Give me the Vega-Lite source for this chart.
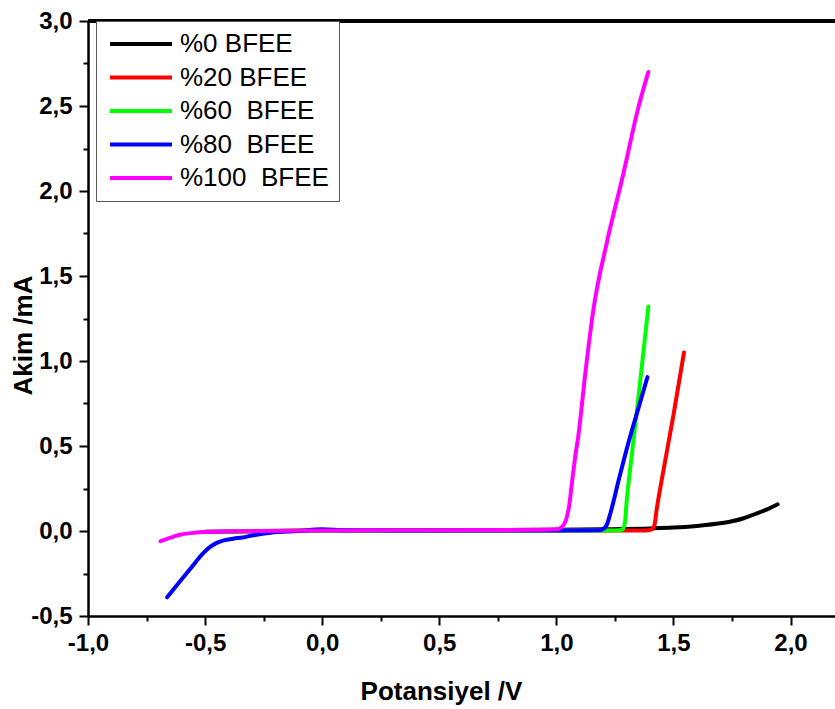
{
  "$schema": "https://vega.github.io/schema/vega-lite/v6.json",
  "width": 747,
  "height": 595,
  "autosize": {"type": "none"},
  "padding": {"left": 88, "top": 21, "right": 0, "bottom": 93},
  "background": "white",
  "config": {
    "view": {"stroke": null},
    "font": "Liberation Sans",
    "axis": {
      "domainColor": "black", "domainWidth": 2.5, "tickColor": "black", "tickWidth": 2,
      "labelFont": "Liberation Sans", "labelFontWeight": "bold", "labelFontSize": 24, "labelColor": "black",
      "titleFont": "Liberation Sans", "titleFontWeight": "bold", "titleFontSize": 26, "titleColor": "black",
      "grid": false, "labelFlush": false, "labelOverlap": false
    }
  },
  "datasets": {
    "curves": [
      {"series": "%0 BFEE", "V": -0.5, "I": -0.005},
      {"series": "%0 BFEE", "V": 0.0, "I": 0.003},
      {"series": "%0 BFEE", "V": 0.5, "I": 0.005},
      {"series": "%0 BFEE", "V": 1.0, "I": 0.007},
      {"series": "%0 BFEE", "V": 1.2, "I": 0.01},
      {"series": "%0 BFEE", "V": 1.4, "I": 0.015},
      {"series": "%0 BFEE", "V": 1.5, "I": 0.02},
      {"series": "%0 BFEE", "V": 1.6, "I": 0.03},
      {"series": "%0 BFEE", "V": 1.7, "I": 0.045},
      {"series": "%0 BFEE", "V": 1.75, "I": 0.057},
      {"series": "%0 BFEE", "V": 1.8, "I": 0.075},
      {"series": "%0 BFEE", "V": 1.85, "I": 0.1},
      {"series": "%0 BFEE", "V": 1.9, "I": 0.127},
      {"series": "%0 BFEE", "V": 1.945, "I": 0.157},

      {"series": "%20 BFEE", "V": -0.4, "I": -0.003},
      {"series": "%20 BFEE", "V": 0.0, "I": 0.003},
      {"series": "%20 BFEE", "V": 1.0, "I": 0.003},
      {"series": "%20 BFEE", "V": 1.38, "I": 0.003},
      {"series": "%20 BFEE", "V": 1.405, "I": 0.008},
      {"series": "%20 BFEE", "V": 1.418, "I": 0.03},
      {"series": "%20 BFEE", "V": 1.43, "I": 0.14},
      {"series": "%20 BFEE", "V": 1.45, "I": 0.3},
      {"series": "%20 BFEE", "V": 1.5, "I": 0.68},
      {"series": "%20 BFEE", "V": 1.545, "I": 1.05},

      {"series": "%60  BFEE", "V": -0.4, "I": -0.003},
      {"series": "%60  BFEE", "V": 0.0, "I": 0.003},
      {"series": "%60  BFEE", "V": 1.0, "I": 0.003},
      {"series": "%60  BFEE", "V": 1.26, "I": 0.003},
      {"series": "%60  BFEE", "V": 1.283, "I": 0.01},
      {"series": "%60  BFEE", "V": 1.293, "I": 0.05},
      {"series": "%60  BFEE", "V": 1.3, "I": 0.17},
      {"series": "%60  BFEE", "V": 1.32, "I": 0.42},
      {"series": "%60  BFEE", "V": 1.346, "I": 0.73},
      {"series": "%60  BFEE", "V": 1.37, "I": 1.03},
      {"series": "%60  BFEE", "V": 1.393, "I": 1.32},

      {"series": "%80  BFEE", "V": -0.662, "I": -0.39},
      {"series": "%80  BFEE", "V": -0.62, "I": -0.318},
      {"series": "%80  BFEE", "V": -0.577, "I": -0.245},
      {"series": "%80  BFEE", "V": -0.54, "I": -0.183},
      {"series": "%80  BFEE", "V": -0.509, "I": -0.132},
      {"series": "%80  BFEE", "V": -0.48, "I": -0.095},
      {"series": "%80  BFEE", "V": -0.45, "I": -0.07},
      {"series": "%80  BFEE", "V": -0.42, "I": -0.055},
      {"series": "%80  BFEE", "V": -0.38, "I": -0.045},
      {"series": "%80  BFEE", "V": -0.34, "I": -0.038},
      {"series": "%80  BFEE", "V": -0.3, "I": -0.027},
      {"series": "%80  BFEE", "V": -0.22, "I": -0.01},
      {"series": "%80  BFEE", "V": -0.1, "I": 0.0},
      {"series": "%80  BFEE", "V": 0.0, "I": 0.01},
      {"series": "%80  BFEE", "V": 0.1, "I": 0.004},
      {"series": "%80  BFEE", "V": 0.5, "I": 0.003},
      {"series": "%80  BFEE", "V": 1.0, "I": 0.003},
      {"series": "%80  BFEE", "V": 1.18, "I": 0.004},
      {"series": "%80  BFEE", "V": 1.2, "I": 0.012},
      {"series": "%80  BFEE", "V": 1.215, "I": 0.035},
      {"series": "%80  BFEE", "V": 1.23, "I": 0.1},
      {"series": "%80  BFEE", "V": 1.27, "I": 0.32},
      {"series": "%80  BFEE", "V": 1.31, "I": 0.53},
      {"series": "%80  BFEE", "V": 1.35, "I": 0.72},
      {"series": "%80  BFEE", "V": 1.389, "I": 0.905},

      {"series": "%100  BFEE", "V": -0.69, "I": -0.06},
      {"series": "%100  BFEE", "V": -0.65, "I": -0.04},
      {"series": "%100  BFEE", "V": -0.607, "I": -0.022},
      {"series": "%100  BFEE", "V": -0.55, "I": -0.011},
      {"series": "%100  BFEE", "V": -0.51, "I": -0.006},
      {"series": "%100  BFEE", "V": -0.4, "I": -0.002},
      {"series": "%100  BFEE", "V": 0.0, "I": 0.003},
      {"series": "%100  BFEE", "V": 0.5, "I": 0.005},
      {"series": "%100  BFEE", "V": 0.9, "I": 0.007},
      {"series": "%100  BFEE", "V": 1.0, "I": 0.01},
      {"series": "%100  BFEE", "V": 1.02, "I": 0.02},
      {"series": "%100  BFEE", "V": 1.04, "I": 0.06},
      {"series": "%100  BFEE", "V": 1.055, "I": 0.15},
      {"series": "%100  BFEE", "V": 1.068, "I": 0.3},
      {"series": "%100  BFEE", "V": 1.08, "I": 0.43},
      {"series": "%100  BFEE", "V": 1.094, "I": 0.56},
      {"series": "%100  BFEE", "V": 1.124, "I": 0.93},
      {"series": "%100  BFEE", "V": 1.158, "I": 1.3},
      {"series": "%100  BFEE", "V": 1.218, "I": 1.71},
      {"series": "%100  BFEE", "V": 1.286, "I": 2.1},
      {"series": "%100  BFEE", "V": 1.35, "I": 2.49},
      {"series": "%100  BFEE", "V": 1.393, "I": 2.7}
    ]
  },
  "data": {"name": "curves"},
  "layer": [
    {
      "mark": {"type": "line", "strokeWidth": 4, "strokeCap": "round", "strokeJoin": "round", "interpolate": "monotone"},
      "encoding": {
        "x": {
          "field": "V", "type": "quantitative",
          "scale": {"domain": [-1, 2.19], "nice": false, "zero": false},
          "axis": {
            "title": "Potansiyel /V",
            "values": [-1, -0.75, -0.5, -0.25, 0, 0.25, 0.5, 0.75, 1, 1.25, 1.5, 1.75, 2],
            "tickSize": {"condition": {"test": "abs(datum.value*2 - round(datum.value*2)) < 0.001", "value": 9}, "value": 5},
            "labelExpr": "abs(datum.value*2 - round(datum.value*2)) < 0.001 ? replace(replace(format(datum.value, '.1f'), '.', ','), '\u2212', '-') : ''",
            "labelPadding": 6,
            "titleX": 353, "titleY": 83, "titleBaseline": "alphabetic"
          }
        },
        "y": {
          "field": "I", "type": "quantitative",
          "scale": {"domain": [-0.5, 3.0], "nice": false, "zero": false},
          "axis": {
            "title": "Akim /mA",
            "values": [-0.5, -0.25, 0, 0.25, 0.5, 0.75, 1, 1.25, 1.5, 1.75, 2, 2.25, 2.5, 2.75, 3],
            "tickSize": {"condition": {"test": "abs(datum.value*2 - round(datum.value*2)) < 0.001", "value": 9}, "value": 5},
            "labelExpr": "abs(datum.value*2 - round(datum.value*2)) < 0.001 ? replace(replace(format(datum.value, '.1f'), '.', ','), '\u2212', '-') : ''",
            "labelPadding": 7,
            "titleX": -52, "titleY": 314
          }
        },
        "color": {
          "field": "series", "type": "nominal",
          "scale": {
            "domain": ["%0 BFEE", "%20 BFEE", "%60  BFEE", "%80  BFEE", "%100  BFEE"],
            "range": ["#000000", "#ff0000", "#00ff00", "#0000ff", "#ff00ff"]
          },
          "legend": {
            "title": null, "orient": "none", "legendX": 8, "legendY": 0,
            "strokeColor": "#555555", "fillColor": "white", "padding": 10,
            "symbolType": "stroke", "symbolStrokeWidth": 4, "symbolSize": 3844, "symbolOffset": 2,
            "clipHeight": 26,
            "labelFont": "Liberation Sans", "labelFontSize": 26, "labelColor": "black",
            "labelExpr": "replace(datum.label, '  ', '\u00a0 ')",
            "rowPadding": 7.5, "labelOffset": 6
          }
        }
      }
    },
    {
      "mark": {"type": "rule", "color": "black", "strokeWidth": 2.5},
      "encoding": {"y": {"datum": 3.0}}
    }
  ]
}
